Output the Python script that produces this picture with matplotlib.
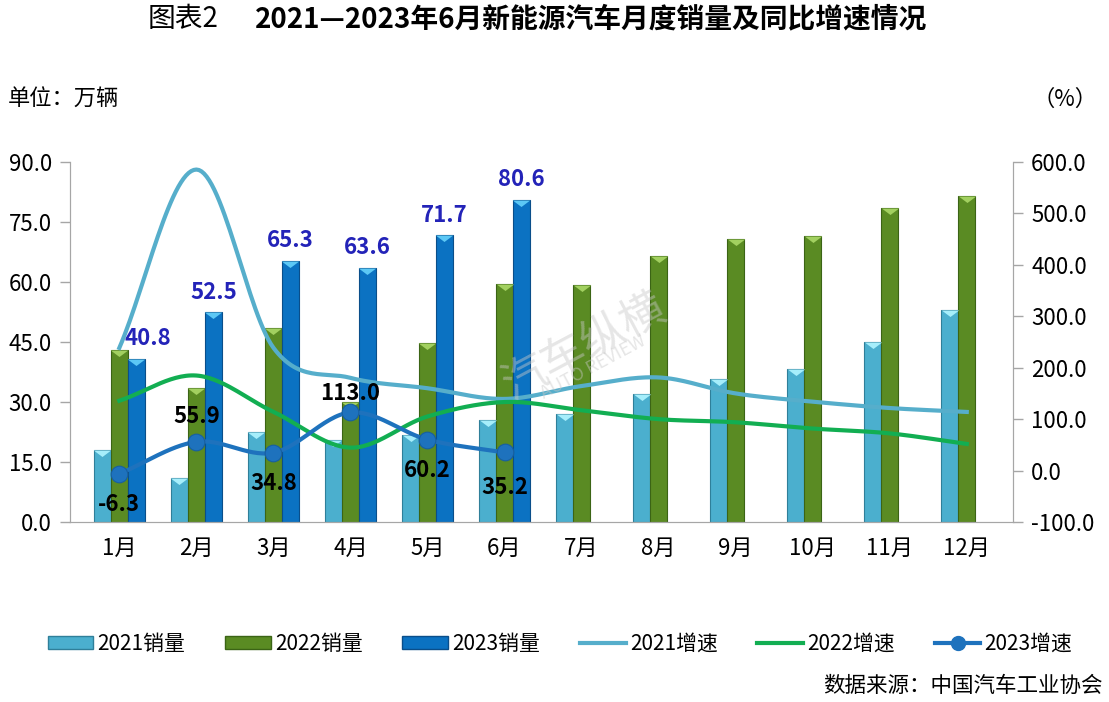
import numpy as np
import matplotlib.pyplot as plt
from matplotlib.patches import Patch
from matplotlib.lines import Line2D

plt.rcParams['font.family'] = ['Noto Sans CJK SC', 'DejaVu Sans']

months = ['1月', '2月', '3月', '4月', '5月', '6月', '7月', '8月', '9月', '10月', '11月', '12月']

sales_2021 = [17.9, 11.0, 22.6, 20.6, 21.7, 25.6, 27.1, 32.1, 35.7, 38.3, 45.0, 53.1]
sales_2022 = [43.1, 33.4, 48.4, 29.9, 44.7, 59.6, 59.3, 66.6, 70.8, 71.4, 78.6, 81.4]
sales_2023 = [40.8, 52.5, 65.3, 63.6, 71.7, 80.6]

growth_2021 = [238.5, 585.3, 238.9, 180.3, 160.1, 139.3, 164.4, 181.1, 150.0, 134.0, 121.6, 114.0]
growth_2022 = [135.8, 184.8, 114.2, 44.6, 105.2, 133.3, 117.3, 100.0, 93.9, 81.7, 72.3, 51.8]
growth_2023 = [-6.3, 55.9, 34.8, 113.0, 60.2, 35.2]

c21, c21e, c21t = '#4BAFCE', '#2F7F99', '#A6EEFB'
c22, c22e, c22t = '#5A8B23', '#3B6415', '#A2D060'
c23, c23e, c23t = '#0B72C2', '#0A4E8A', '#5CC8F5'
lc21, lc22, lc23 = '#56AECB', '#12AE52', '#1E72BD'
gray = '#A6A6A6'


def smooth(y, n=30):
    # catmull-rom style smoothing like Excel's "smoothed line"
    y = np.asarray(y, float)
    x = np.arange(len(y), dtype=float)
    px = np.concatenate([[2 * x[0] - x[1]], x, [2 * x[-1] - x[-2]]])
    py = np.concatenate([[2 * y[0] - y[1]], y, [2 * y[-1] - y[-2]]])
    xs, ys = [], []
    for i in range(1, len(px) - 2):
        t = np.linspace(0, 1, n, endpoint=False)
        for arr, out in ((px, xs), (py, ys)):
            p0, p1, p2, p3 = arr[i - 1], arr[i], arr[i + 1], arr[i + 2]
            out.extend(0.5 * ((2 * p1) + (-p0 + p2) * t
                              + (2 * p0 - 5 * p1 + 4 * p2 - p3) * t ** 2
                              + (-p0 + 3 * p1 - 3 * p2 + p3) * t ** 3))
    xs.append(x[-1])
    ys.append(y[-1])
    return np.array(xs), np.array(ys)


fig = plt.figure(figsize=(11.09, 7.02), dpi=100)
ax = fig.add_axes([70 / 1109, 180 / 702, 943 / 1109, 360 / 702])
ax2 = ax.twinx()

x = np.arange(len(months))
w = 0.22
tri = [(-1, 0), (1, 0), (0, -0.75), (-1, 0)]

for vals, off, fc, ec, tc in ((sales_2021, -w, c21, c21e, c21t),
                              (sales_2022, 0, c22, c22e, c22t),
                              (sales_2023, w, c23, c23e, c23t)):
    xx = x[:len(vals)] + off
    ax.bar(xx, vals, width=w, color=fc, edgecolor=ec, linewidth=0.8, zorder=2)
    ax.plot(xx, vals, ls='none', marker=tri, markersize=12.5, color=tc,
            markeredgewidth=0, zorder=3)

# 2023 sales labels
for i, (xi, v) in enumerate(zip(x[:6] + w, sales_2023)):
    dx = 8 if i == 0 else 0
    ax.annotate(f'{v:.1f}', (xi, v), xytext=(dx, 6), textcoords='offset points',
                ha='center', va='bottom', fontsize=16, fontweight='bold',
                color='#2323B8', zorder=6)

sx, sy = smooth(growth_2021)
ax2.plot(sx, sy, color=lc21, lw=3, zorder=4)
sx, sy = smooth(growth_2022)
ax2.plot(sx, sy, color=lc22, lw=3, zorder=4)
sx, sy = smooth(growth_2023)
ax2.plot(sx, sy, color=lc23, lw=3, zorder=4)
ax2.plot(x[:6], growth_2023, ls='none', marker='o', markersize=12, color=lc23,
         markeredgecolor='#175FA0', markeredgewidth=0.8, zorder=5)

offs = [-22, 18, -22, 14, -22, -25]
for xi, v, o in zip(x[:6], growth_2023, offs):
    ax2.annotate(f'{v:.1f}', (xi, v), xytext=(0, o), textcoords='offset points',
                 ha='center', va='center', fontsize=16, fontweight='bold',
                 color='black', zorder=6)

ax.set_zorder(1)
ax2.set_zorder(2)
ax2.patch.set_visible(False)

ax.set_xlim(-0.64, 11.6)
ax.set_ylim(0, 90)
ax2.set_ylim(-100, 600)
ax.set_yticks(np.arange(0, 91, 15))
ax.set_yticklabels([f'{v:.1f}' for v in np.arange(0, 91, 15)])
ax2.set_yticks(np.arange(-100, 601, 100))
ax2.set_yticklabels([f'{v:.1f}' for v in np.arange(-100, 601, 100)])
ax.set_xticks(x)
ax.set_xticklabels(months)

for a in (ax, ax2):
    a.spines['top'].set_visible(False)
    for s in ('left', 'right', 'bottom'):
        a.spines[s].set_color(gray)
    a.tick_params(axis='y', colors=gray, labelcolor='black', labelsize=16,
                  length=7, width=1, direction='out', pad=6)
ax.tick_params(axis='x', length=0, labelsize=16, pad=11)

# watermark
ax2.text(0.545, 0.49, '汽车纵横', rotation=28, fontsize=32, color='#C8C8C8',
         alpha=0.45, ha='center', va='center', transform=ax2.transAxes, zorder=7)
ax2.text(0.555, 0.43, 'AUTO REVIEW', rotation=28, fontsize=13, color='#C8C8C8',
         alpha=0.45, ha='center', va='center', transform=ax2.transAxes, zorder=7)

fig.text(148 / 1109, 1 - 19 / 702, '图表2', fontsize=20, va='center', ha='left')
fig.text(255 / 1109, 1 - 19 / 702, '2021—2023年6月新能源汽车月度销量及同比增速情况',
         fontsize=20, fontweight='bold', va='center', ha='left')
fig.text(8 / 1109, 1 - 99 / 702, '单位：万辆', fontsize=16, va='center', ha='left')
fig.text(1098 / 1109, 1 - 99 / 702, '（%）', fontsize=16, va='center', ha='right')
fig.text(1103 / 1109, 1 - 686 / 702, '数据来源：中国汽车工业协会', fontsize=15.5,
         va='center', ha='right')

handles = [
    Patch(facecolor=c21, edgecolor=c21e, label='2021销量'),
    Patch(facecolor=c22, edgecolor=c22e, label='2022销量'),
    Patch(facecolor=c23, edgecolor=c23e, label='2023销量'),
    Line2D([], [], color=lc21, lw=3, label='2021增速'),
    Line2D([], [], color=lc22, lw=3, label='2022增速'),
    Line2D([], [], color=lc23, lw=3, marker='o', markersize=10, label='2023增速'),
]
fig.legend(handles=handles, loc='center', bbox_to_anchor=(0.505, 1 - 644 / 702),
           ncol=6, frameon=False, fontsize=15, handlelength=2.2, handleheight=0.6,
           handletextpad=0.2, columnspacing=1.9)

fig.savefig('out.png', dpi=100)
